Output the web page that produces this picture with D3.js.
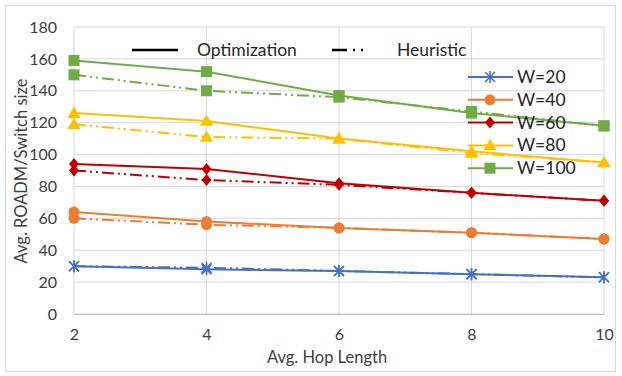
<!DOCTYPE html>
<html><head><meta charset="utf-8">
<script src="https://cdn.jsdelivr.net/npm/d3@7"></script>
<style>body{margin:0;background:#fff;} text{font-family:Lato,"Open Sans",sans-serif;}</style>
</head><body><svg id="c" width="622" height="376"></svg>
<script>
const hops = [2, 4, 6, 8, 10];
const yTicks = [0, 20, 40, 60, 80, 100, 120, 140, 160, 180];
const seriesNames = ["W=20", "W=40", "W=60", "W=80", "W=100"];
const colors = ["#4472C4", "#ED7D31", "#C00000", "#FFC000", "#70AD47"];
const markers = ["asterisk", "circle", "diamond", "triangle", "square"];
const optW20 = [30, 28, 27, 25, 23];
const optW40 = [64, 58, 54, 51, 47];
const optW60 = [94, 91, 82, 76, 71];
const optW80 = [126, 121, 110, 102, 95];
const optW100 = [159, 152, 137, 126, 118];
const heuW20 = [30, 29, 27, 25, 23];
const heuW40 = [60, 56, 54, 51, 47];
const heuW60 = [90, 84, 81, 76, 71];
const heuW80 = [119, 111, 110, 101, 95];
const heuW100 = [150, 140, 136, 127, 118];
const opt = [optW20, optW40, optW60, optW80, optW100];
const heu = [heuW20, heuW40, heuW60, heuW80, heuW100];

const svg = d3.select("#c");
svg.append("rect").attr("x",5.5).attr("y",5.5).attr("width",610).attr("height",366).attr("fill","#fff").attr("stroke","#d9d9d9");
const x = d3.scaleLinear().domain([2,10]).range([74,604]);
const y = d3.scaleLinear().domain([0,180]).range([314,27]);

// grid
svg.append("g").selectAll("line").data(yTicks).join("line")
  .attr("x1",74).attr("x2",604).attr("y1",d=>y(d)).attr("y2",d=>y(d)).attr("stroke","#d9d9d9");
svg.append("g").selectAll("line").data(hops).join("line")
  .attr("y1",27).attr("y2",314).attr("x1",d=>x(d)).attr("x2",d=>x(d)).attr("stroke","#d9d9d9");

const yAxis = d3.axisLeft(y).tickValues(yTicks).tickSize(0).tickPadding(17);
const gy = svg.append("g").attr("transform","translate(74,0)").call(yAxis);
gy.select(".domain").remove();
gy.selectAll("text").attr("font-size",16).attr("fill","#404040");
const xAxis = d3.axisBottom(x).tickValues(hops).tickSize(0).tickPadding(15);
const gx = svg.append("g").attr("transform","translate(0,314)").call(xAxis);
gx.select(".domain").attr("stroke","#bfbfbf");
gx.selectAll("text").attr("font-size",16).attr("fill","#404040");

svg.append("text").attr("x",327).attr("y",363).attr("text-anchor","middle").attr("font-size",16.5).attr("fill","#404040").text("Avg. Hop Length");
svg.append("text").attr("transform","translate(27,171) rotate(-90)").attr("text-anchor","middle").attr("font-size",16.5).attr("fill","#404040").text("Avg. ROADM/Switch size");

const line = d3.line().x((d,i)=>x(hops[i])).y(d=>y(d));
const dashHeu = "12,4,2,4,2,4";

function drawMarker(g, type, cx, cy, color){
  if(type==="square") g.append("rect").attr("x",cx-5.5).attr("y",cy-5.5).attr("width",11).attr("height",11).attr("fill",color);
  else if(type==="circle") g.append("circle").attr("cx",cx).attr("cy",cy).attr("r",5.5).attr("fill",color);
  else if(type==="triangle") g.append("path").attr("d",d3.symbol(d3.symbolTriangle,75)()).attr("transform",`translate(${cx},${cy+1})`).attr("fill",color);
  else if(type==="diamond") g.append("path").attr("d",`M${cx},${cy-6}L${cx+5},${cy}L${cx},${cy+6}L${cx-5},${cy}Z`).attr("fill",color);
  else if(type==="asterisk") {
    const s=5;
    g.append("path").attr("d",`M${cx-s},${cy-s}L${cx+s},${cy+s}M${cx-s},${cy+s}L${cx+s},${cy-s}M${cx},${cy-s-1}L${cx},${cy+s+1}`).attr("stroke",color).attr("stroke-width",1.5).attr("fill","none");
  }
}

for(let k=0;k<5;k++){
  const g = svg.append("g");
  g.append("path").datum(heu[k]).attr("d",line).attr("fill","none").attr("stroke",colors[k]).attr("stroke-width",2).attr("stroke-dasharray",dashHeu);
  heu[k].forEach((v,i)=>drawMarker(g,markers[k],x(hops[i]),y(v),colors[k]));
  g.append("path").datum(opt[k]).attr("d",line).attr("fill","none").attr("stroke",colors[k]).attr("stroke-width",2);
  opt[k].forEach((v,i)=>drawMarker(g,markers[k],x(hops[i]),y(v),colors[k]));
}

// style legend
svg.append("line").attr("x1",132).attr("x2",178).attr("y1",50).attr("y2",50).attr("stroke","#000").attr("stroke-width",2.5);
svg.append("text").attr("x",197).attr("y",56).attr("font-size",17.5).attr("fill","#262626").text("Optimization");
svg.append("line").attr("x1",332).attr("x2",366).attr("y1",50).attr("y2",50).attr("stroke","#000").attr("stroke-width",2.5).attr("stroke-dasharray","15,6,2,6,2,6");
svg.append("text").attr("x",397).attr("y",56).attr("font-size",17.5).attr("fill","#262626").text("Heuristic");

// series legend
seriesNames.forEach((n,k)=>{
  const ly = 77 + k*22.8;
  const g = svg.append("g");
  g.append("line").attr("x1",468).attr("x2",513).attr("y1",ly).attr("y2",ly).attr("stroke",colors[k]).attr("stroke-width",2);
  drawMarker(g,markers[k],490,ly,colors[k]);
  g.append("text").attr("x",517).attr("y",ly+6).attr("font-size",17.5).attr("fill","#262626").text(n);
});
</script></body></html>
